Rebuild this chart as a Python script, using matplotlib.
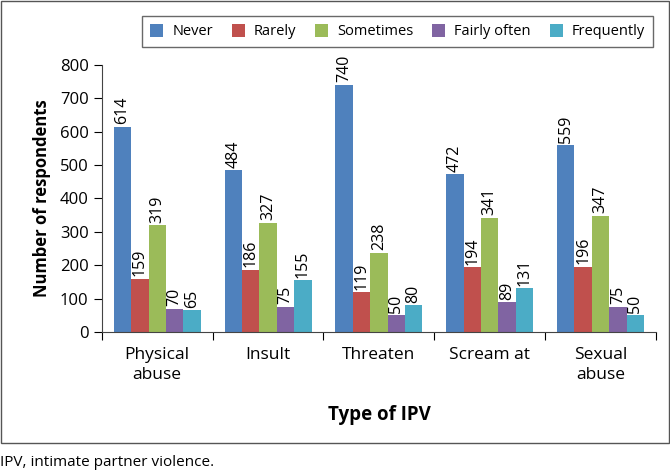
import numpy as np
import matplotlib.pyplot as plt
from matplotlib.patches import Rectangle

plt.rcParams['font.family'] = ['Open Sans', 'DejaVu Sans']

categories = ['Physical\nabuse', 'Insult', 'Threaten', 'Scream at', 'Sexual\nabuse']
series = ['Never', 'Rarely', 'Sometimes', 'Fairly often', 'Frequently']
never = [614, 484, 740, 472, 559]
rarely = [159, 186, 119, 194, 196]
sometimes = [319, 327, 238, 341, 347]
fairly_often = [70, 75, 50, 89, 75]
frequently = [65, 155, 80, 131, 50]
colors = ['#4F81BD', '#C0504D', '#9BBB59', '#8064A2', '#4BACC6']

values = [never, rarely, sometimes, fairly_often, frequently]

fig = plt.figure(figsize=(6.7, 4.73), dpi=100)
ax = fig.add_axes([0.152, 0.298, 0.827, 0.565])

x = np.arange(len(categories))
w = 0.157
for i, (name, vals) in enumerate(zip(series, values)):
    pos = x + (i - 2) * w
    ax.bar(pos, vals, width=w, color=colors[i], label=name)
    for p, v in zip(pos, vals):
        ax.text(p, v + 8, str(v), rotation=90, ha='center', va='bottom', fontsize=11.5)

ax.set_xlim(-0.5, 4.5)
ax.set_ylim(0, 800)
ax.set_yticks(range(0, 801, 100))
ax.set_xticks(np.arange(-0.5, 5, 1))
ax.set_xticklabels([])
ax.set_xticks(x, minor=True)
ax.set_xticklabels(categories, minor=True, fontsize=12.5, linespacing=1.3)
ax.tick_params(axis='x', which='minor', length=0, pad=11)
ax.tick_params(axis='x', which='major', length=6, direction='out')
ax.tick_params(axis='y', labelsize=12, length=6, direction='out')
ax.spines['top'].set_visible(False)
ax.spines['right'].set_visible(False)
ax.spines['left'].set_color('#444444')
ax.spines['bottom'].set_color('#444444')

ax.set_xlabel('Type of IPV', fontsize=13.5, fontweight='bold', labelpad=16)
ax.set_ylabel('Number of respondents', fontsize=12, fontweight='bold', labelpad=6)

leg = fig.legend(loc='upper right', bbox_to_anchor=(0.985, 0.982), ncol=5, fontsize=10.5,
                 frameon=True, fancybox=False, edgecolor='#444444', handlelength=0.9,
                 handleheight=1.0, handletextpad=0.6, columnspacing=1.3, borderpad=0.55)
leg.get_frame().set_linewidth(1.0)

fig.patches.append(Rectangle((0.001, 1 - 443 / 473), 0.997, 443 / 473 - 0.002,
                             transform=fig.transFigure, fill=False,
                             edgecolor='#555555', linewidth=1.0))

fig.text(0.0, 1 - 462 / 473, 'IPV, intimate partner violence.', fontsize=11, va='center')

fig.savefig('out.png', dpi=100)
